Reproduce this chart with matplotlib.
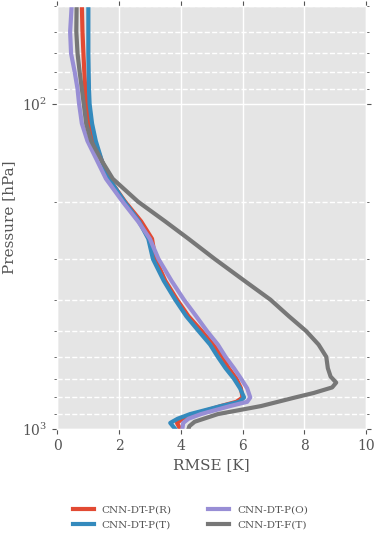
import matplotlib
matplotlib.use('Agg')
import matplotlib.pyplot as plt
import numpy as np

plt.style.use('ggplot')
plt.rcParams['font.family'] = ['DejaVu Serif']

# pressure levels [hPa]
pressure = [50, 60, 70, 80, 90, 100, 115, 130, 150, 170, 200, 230, 260, 300,
            350, 400, 450, 500, 550, 600, 650, 700, 750, 800, 825, 850, 900,
            930, 958, 1000]

# RMSE profiles [K]
rmse_pr = [0.80, 0.82, 0.85, 0.88, 0.91, 0.95, 1.05, 1.20, 1.45, 1.68, 2.20,
           2.72, 3.07, 3.18, 3.50, 3.88, 4.25, 4.68, 5.05, 5.35, 5.55, 5.80,
           5.95, 6.00, 5.80, 5.30, 4.45, 4.05, 3.88, 3.98]
rmse_pt = [1.01, 1.01, 1.01, 1.02, 1.03, 1.05, 1.13, 1.25, 1.45, 1.68, 2.18,
           2.65, 2.95, 3.10, 3.45, 3.82, 4.18, 4.58, 4.95, 5.20, 5.45, 5.72,
           5.92, 6.05, 5.90, 5.30, 4.30, 3.90, 3.66, 3.82]
rmse_po = [0.47, 0.42, 0.45, 0.57, 0.66, 0.71, 0.80, 0.98, 1.30, 1.58, 2.12,
           2.62, 3.00, 3.28, 3.70, 4.10, 4.50, 4.85, 5.20, 5.45, 5.72, 5.95,
           6.15, 6.25, 6.15, 5.60, 4.65, 4.25, 4.08, 4.05]

# full-profile model on its own levels
pressure_ft = [50, 60, 70, 80, 90, 100, 115, 130, 150, 170, 200, 230, 260,
               300, 350, 400, 450, 500, 550, 600, 650, 690, 720, 745, 775,
               800, 850, 900, 950, 980, 1000]
rmse_ft = [0.63, 0.62, 0.66, 0.73, 0.80, 0.86, 0.94, 1.10, 1.45, 1.80, 2.62,
           3.50, 4.25, 5.10, 6.06, 6.90, 7.50, 8.06, 8.46, 8.71, 8.76, 8.85,
           9.03, 8.90, 8.30, 7.70, 6.60, 5.20, 4.45, 4.28, 4.25]

labels = ['CNN-DT-P(R)', 'CNN-DT-P(T)', 'CNN-DT-P(O)', 'CNN-DT-F(T)']

fig = plt.figure(figsize=(3.81, 5.42), dpi=100)
ax = fig.add_axes([0.150, 0.2085, 0.811, 0.7805])

profiles = [(rmse_pr, pressure), (rmse_pt, pressure), (rmse_po, pressure),
            (rmse_ft, pressure_ft)]
for (vals, levs), lab in zip(profiles, labels):
    ax.plot(vals, levs, lw=3, label=lab, solid_joinstyle='round')

ax.set_yscale('log')
ax.set_ylim(1000, 50)
ax.set_xlim(0, 10)
ax.set_xticks([0, 2, 4, 6, 8, 10])

ax.grid(True, which='major', color='white', lw=1, ls='-')
ax.grid(True, which='minor', axis='y', color='white', lw=1, ls='--')
ax.tick_params(which='both', top=True, right=True, direction='out',
               labelsize=10, colors='#555555')

ax.set_xlabel('RMSE [K]', fontsize=11, color='#555555')
ax.set_ylabel('Pressure [hPa]', fontsize=11, color='#555555')

fig.legend(loc='center', bbox_to_anchor=(0.5, 0.045), ncol=2, frameon=False,
           fontsize=7.5, handlelength=2, columnspacing=3.5,
           labelcolor='#555555')

fig.savefig('out.png', dpi=100)
